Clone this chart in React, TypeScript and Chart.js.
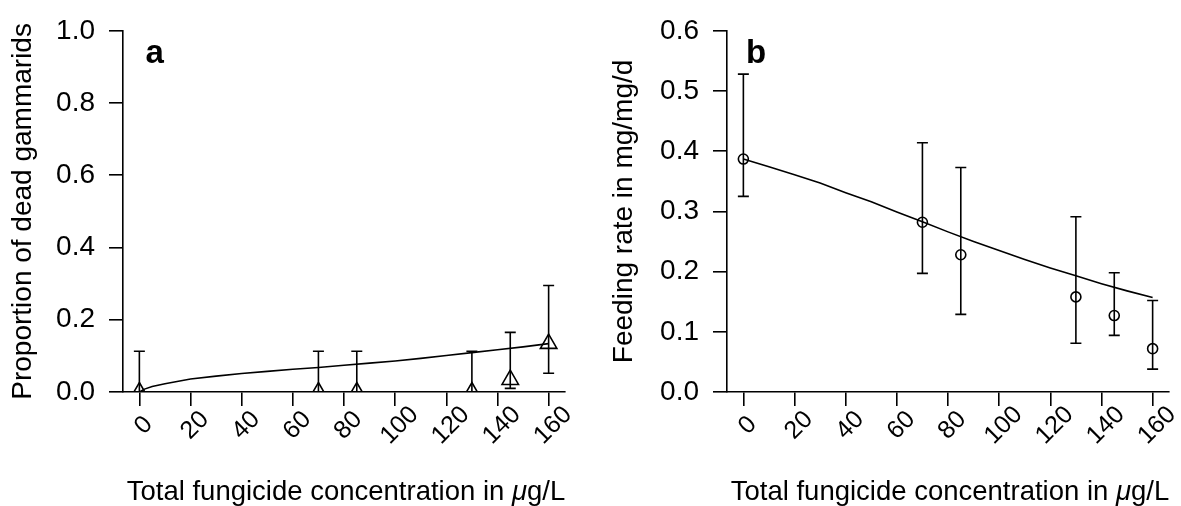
import React, { useEffect, useRef } from "react";
import { Chart, registerables } from "chart.js";

Chart.register(...registerables);

// ---- shared x axis ----
const xTickValues = [0, 20, 40, 60, 80, 100, 120, 140, 160];
const concentrations = [0, 70, 85, 130, 145, 160];

// ---- panel a: mortality ----
const yTicksA = [0, 0.2, 0.4, 0.6, 0.8, 1.0];
const mortality = [0, 0, 0, 0, 0.034, 0.134];
const mortalityLower = [0, 0, 0, 0, 0.01, 0.052];
const mortalityUpper = [0.113, 0.113, 0.113, 0.113, 0.165, 0.295];
const mortalityFitX = [0, 2, 5, 10, 20, 30, 40, 50, 60, 70, 80, 90, 100, 110, 120, 130, 140, 150, 160];
const mortalityFitY = [0, 0.008, 0.015, 0.023, 0.036, 0.044, 0.051, 0.057, 0.063, 0.068, 0.074, 0.08, 0.086, 0.093, 0.101, 0.109, 0.117, 0.125, 0.134];

// ---- panel b: feeding rate ----
const yTicksB = [0, 0.1, 0.2, 0.3, 0.4, 0.5, 0.6];
const feeding = [0.387, 0.282, 0.228, 0.158, 0.127, 0.072];
const feedingLower = [0.325, 0.197, 0.129, 0.081, 0.094, 0.038];
const feedingUpper = [0.528, 0.414, 0.373, 0.291, 0.198, 0.152];
const feedingFitX = [0, 10, 20, 30, 40, 50, 60, 70, 80, 90, 100, 110, 120, 130, 140, 150, 160];
const feedingFitY = [0.387, 0.374, 0.361, 0.347, 0.331, 0.316, 0.299, 0.283, 0.266, 0.25, 0.235, 0.22, 0.206, 0.193, 0.18, 0.168, 0.157];

const FONT = '"Liberation Sans", Arial, Helvetica, sans-serif';
const X_TITLE_PARTS = ["Total fungicide concentration in ", "\u03bc", "g/L"];
const LW = 1.6;

type PanelCfg = {
  letter: string;
  yTitle: string;
  yMax: number;
  yTicks: number[];
  values: number[];
  lower: number[];
  upper: number[];
  fitX: number[];
  fitY: number[];
  pointStyle: string;
  pointRadius: number;
  clipPoints: boolean;
  yScaleWidth: number;
  rightPad: number;
  yTitlePad: number;
  letterDx: number;
};

function makeChart(canvas: HTMLCanvasElement, cfg: PanelCfg) {
  const overlay = {
    id: "overlay" + cfg.letter,
    afterDatasetsDraw(chart: any) {
      const ctx = chart.ctx;
      const xs = chart.scales.x;
      const ys = chart.scales.y;
      ctx.save();
      ctx.strokeStyle = "#000";
      ctx.lineWidth = LW;
      const cap = 5.5;
      concentrations.forEach((c, i) => {
        const px = xs.getPixelForValue(c);
        const pLo = ys.getPixelForValue(cfg.lower[i]);
        const pHi = ys.getPixelForValue(cfg.upper[i]);
        ctx.beginPath();
        ctx.moveTo(px, pLo);
        ctx.lineTo(px, pHi);
        ctx.moveTo(px - cap, pHi);
        ctx.lineTo(px + cap, pHi);
        if (cfg.lower[i] !== cfg.values[i]) {
          ctx.moveTo(px - cap, pLo);
          ctx.lineTo(px + cap, pLo);
        }
        ctx.stroke();
      });
      ctx.restore();
    },
    afterDraw(chart: any) {
      const ctx = chart.ctx;
      const xs = chart.scales.x;
      const area = chart.chartArea;
      ctx.save();
      ctx.fillStyle = "#000";
      // rotated x tick labels
      ctx.font = "25px " + FONT;
      ctx.textAlign = "center";
      ctx.textBaseline = "middle";
      xTickValues.forEach((v) => {
        const px = xs.getPixelForValue(v) + 4.5;
        const py = xs.top + 33.5;
        ctx.save();
        ctx.translate(px, py);
        ctx.rotate(-Math.PI / 4);
        ctx.fillText(String(v), 0, 0);
        ctx.restore();
      });
      // x axis title with italic mu
      const fonts = ["27.5px " + FONT, "italic 27.5px " + FONT, "27.5px " + FONT];
      const widths = X_TITLE_PARTS.map((t, i) => {
        ctx.font = fonts[i];
        return ctx.measureText(t).width;
      });
      const total = widths.reduce((a, b) => a + b, 0);
      let tx = (area.left + area.right) / 2 - total / 2 + 2;
      ctx.textAlign = "left";
      ctx.textBaseline = "alphabetic";
      X_TITLE_PARTS.forEach((t, i) => {
        ctx.font = fonts[i];
        ctx.fillText(t, tx, 499.5);
        tx += widths[i];
      });
      // panel letter
      ctx.font = "bold 33px " + FONT;
      ctx.fillText(cfg.letter, area.left + cfg.letterDx, area.top + 32.5);
      ctx.restore();
    },
  };

  const axisGrid = {
    display: true,
    drawOnChartArea: false,
    drawTicks: true,
    tickLength: 14,
    color: "#000",
    lineWidth: LW,
  };

  return new Chart(canvas, {
    type: "scatter",
    data: {
      datasets: [
        {
          label: "fit",
          data: cfg.fitX.map((x, i) => ({ x, y: cfg.fitY[i] })),
          showLine: true,
          borderColor: "#000",
          borderWidth: LW,
          pointRadius: 0,
          tension: 0,
          fill: false,
        },
        {
          label: "obs",
          data: concentrations.map((x, i) => ({ x, y: cfg.values[i] })),
          showLine: false,
          pointStyle: cfg.pointStyle as any,
          pointRadius: cfg.pointRadius,
          pointBorderWidth: LW,
          pointBorderColor: "#000",
          pointBackgroundColor: "rgba(0,0,0,0)",
          borderColor: "#000",
          backgroundColor: "rgba(0,0,0,0)",
          clip: cfg.clipPoints ? 0 : false,
        } as any,
      ],
    },
    options: {
      animation: false,
      responsive: false,
      devicePixelRatio: 1,
      events: [],
      layout: { padding: { top: 21, right: cfg.rightPad, left: 0, bottom: 0 } },
      plugins: {
        legend: { display: false },
        tooltip: { enabled: false },
        title: { display: false },
      },
      scales: {
        x: {
          type: "linear",
          min: -6.4,
          max: 166.4,
          grid: axisGrid,
          border: { display: true, color: "#000", width: LW },
          ticks: { display: false },
          afterBuildTicks: (s: any) => {
            s.ticks = xTickValues.map((v) => ({ value: v }));
          },
          afterFit: (s: any) => {
            s.height = 114;
          },
        },
        y: {
          type: "linear",
          min: 0,
          max: cfg.yMax,
          grid: axisGrid,
          border: { display: true, color: "#000", width: LW },
          ticks: {
            color: "#000",
            font: { family: FONT, size: 28 },
            padding: 14,
            callback: (v: any) => Number(v).toFixed(1),
          },
          afterBuildTicks: (s: any) => {
            s.ticks = cfg.yTicks.map((v) => ({ value: v }));
          },
          afterFit: (s: any) => {
            s.width = cfg.yScaleWidth;
          },
          title: {
            display: true,
            text: cfg.yTitle,
            color: "#000",
            font: { family: FONT, size: 28 },
            padding: { top: cfg.yTitlePad, bottom: 0 },
          },
        },
      },
    } as any,
    plugins: [overlay],
  });
}

function Panel({ cfg, left, width }: { cfg: PanelCfg; left: number; width: number }) {
  const ref = useRef<HTMLCanvasElement | null>(null);
  useEffect(() => {
    if (!ref.current) return;
    const chart = makeChart(ref.current, cfg);
    return () => chart.destroy();
  }, []);
  return (
    <div style={{ position: "absolute", left, top: 0, width, height: 506 }}>
      <canvas ref={ref} width={width} height={506} style={{ display: "block" }} />
    </div>
  );
}

const panelA: PanelCfg = {
  letter: "a",
  yTitle: "Proportion of dead gammarids",
  yMax: 1.0,
  yTicks: yTicksA,
  values: mortality,
  lower: mortalityLower,
  upper: mortalityUpper,
  fitX: mortalityFitX,
  fitY: mortalityFitY,
  pointStyle: "triangle",
  pointRadius: 9.5,
  clipPoints: true,
  yScaleWidth: 123,
  rightPad: 25,
  yTitlePad: 6.5,
  letterDx: 22.5,
};

const panelB: PanelCfg = {
  letter: "b",
  yTitle: "Feeding rate in mg/mg/d",
  yMax: 0.6,
  yTicks: yTicksB,
  values: feeding,
  lower: feedingLower,
  upper: feedingUpper,
  fitX: feedingFitX,
  fitY: feedingFitY,
  pointStyle: "circle",
  pointRadius: 5,
  clipPoints: false,
  yScaleWidth: 137,
  rightPad: 12,
  yTitlePad: 17.2,
  letterDx: 19,
};

export default function App() {
  return (
    <div
      style={{
        position: "fixed",
        left: 0,
        top: 0,
        width: 1181,
        height: 506,
        background: "#fff",
        overflow: "hidden",
      }}
    >
      <Panel cfg={panelA} left={0} width={590} />
      <Panel cfg={panelB} left={590} width={591} />
    </div>
  );
}
